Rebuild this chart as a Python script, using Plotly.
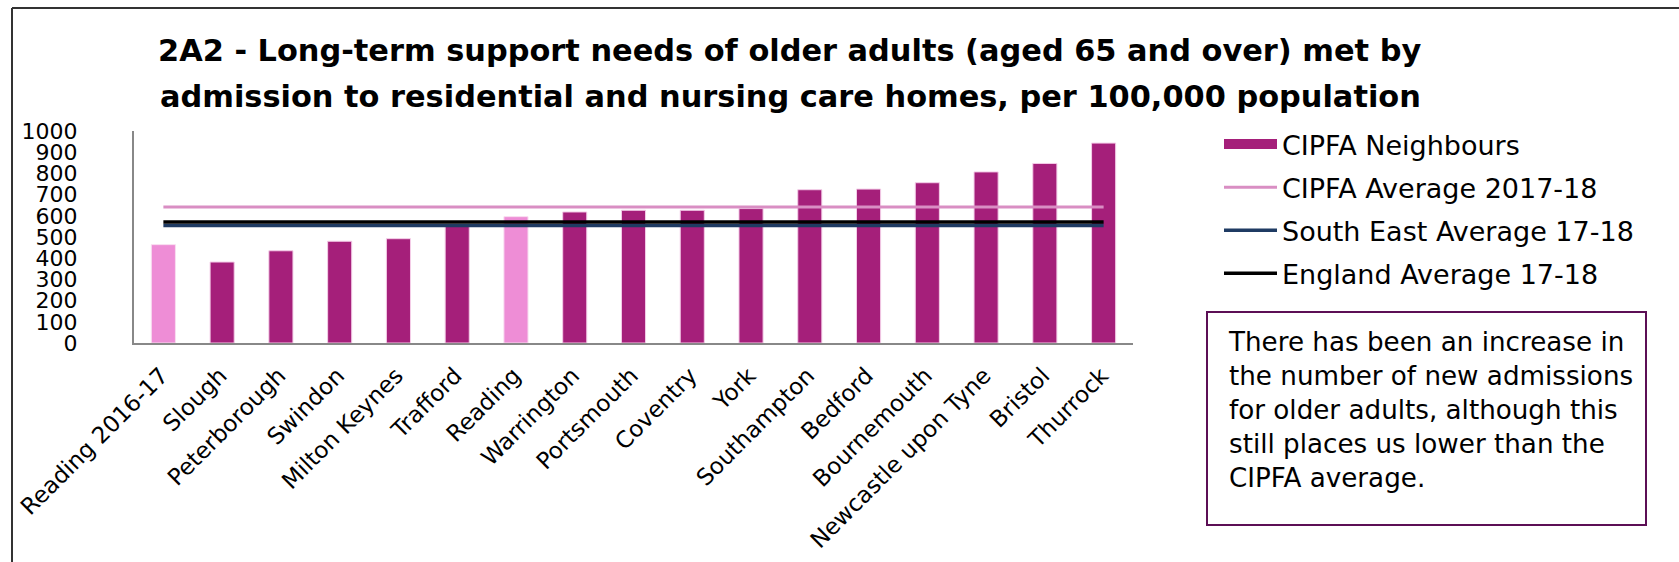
import plotly.graph_objects as go

# ---- data ----
categories = ["Reading 2016-17", "Slough", "Peterborough", "Swindon", "Milton Keynes",
              "Trafford", "Reading", "Warrington", "Portsmouth", "Coventry", "York",
              "Southampton", "Bedford", "Bournemouth", "Newcastle upon Tyne", "Bristol",
              "Thurrock"]
neighbour_values = [464, 382, 435, 480, 492, 550, 596, 618, 626, 626, 634,
                    723, 726, 756, 807, 847, 943]
highlight = ["Reading 2016-17", "Reading"]
cipfa_avg = 642
south_east_avg = 554
england_avg = 571
y_ticks = list(range(0, 1001, 100))

title_line1 = "2A2 - Long-term support needs of older adults (aged 65 and over) met by"
title_line2 = "admission to residential and nursing care homes, per 100,000 population"
note_text = ("There has been an increase in<br>the number of new admissions<br>"
             "for older adults, although this<br>still places us lower than the<br>"
             "CIPFA average.")

# ---- styles / layout constants ----
W, H = 1679, 562
ML, MR, MT, MB = 134, 546, 131, 219
PW = W - ML - MR
PH = H - MT - MB
FONT = "DejaVu Sans"
DARK = "#A51F7A"
PINK = "#EE8DD6"


def px_x(px):
    return (px - ML) / PW


def px_y(py):
    return (H - MB - py) / PH


main_vals = [None if c in highlight else v for c, v in zip(categories, neighbour_values)]
high_vals = [v if c in highlight else None for c, v in zip(categories, neighbour_values)]

fig = go.Figure()
fig.add_trace(go.Bar(
    x=categories, y=main_vals, name="CIPFA Neighbours",
    marker=dict(color=DARK, line=dict(color="#F4CDE8", width=1)),
    legendgroup="a", showlegend=False,
))
fig.add_trace(go.Bar(
    x=categories, y=high_vals, name="Reading",
    marker=dict(color=PINK, line=dict(color="#F8DDF0", width=1)),
    legendgroup="a", showlegend=False,
))
# legend entry for the bars (wide block like the original key)
fig.add_trace(go.Scatter(
    x=[None], y=[None], mode="lines", name="CIPFA Neighbours",
    line=dict(color=DARK, width=16), legendgroup="a", hoverinfo="skip",
))
fig.add_trace(go.Scatter(
    x=categories, y=[cipfa_avg] * len(categories), mode="lines",
    name="CIPFA Average 2017-18", line=dict(color="#D98EC3", width=3),
    legendgroup="b",
))
fig.add_trace(go.Scatter(
    x=categories, y=[south_east_avg] * len(categories), mode="lines",
    name="South East Average 17-18", line=dict(color="#1F3B63", width=3.5),
    legendgroup="c",
))
fig.add_trace(go.Scatter(
    x=categories, y=[england_avg] * len(categories), mode="lines",
    name="England Average 17-18", line=dict(color="#000000", width=3.5),
    legendgroup="d",
))

fig.update_layout(
    width=W, height=H,
    margin=dict(l=ML, r=MR, t=MT, b=MB, pad=0, autoexpand=False),
    paper_bgcolor="white", plot_bgcolor="white",
    font=dict(family=FONT, color="black"),
    barmode="overlay",
    bargap=0.59,
    showlegend=True,
    legend=dict(
        x=px_x(1219), xanchor="left", y=px_y(120), yanchor="top",
        font=dict(family=FONT, size=27, color="black"),
        itemwidth=53, tracegroupgap=5, bgcolor="rgba(0,0,0,0)",
    ),
    title=dict(
        text="<b>" + title_line1 + "</b>",
        x=158 / W, xanchor="left", xref="container",
        y=1 - 50 / H, yanchor="middle", yref="container",
        font=dict(family=FONT, size=30.4, color="black"),
    ),
    xaxis=dict(
        type="category", showline=True, linecolor="#888888", linewidth=2,
        showgrid=False, ticks="", tickangle=-45,
        tickfont=dict(family=FONT, size=23, color="black"),
        ticklabelstandoff=8, ticklabelshift=-2,
        fixedrange=True,
    ),
    yaxis=dict(
        range=[0, 1000], tickmode="array", tickvals=y_ticks,
        ticktext=[str(v) for v in y_ticks],
        showline=True, linecolor="#888888", linewidth=2,
        showgrid=False, zeroline=False, ticks="",
        tickfont=dict(family=FONT, size=22, color="black"),
        ticklabelstandoff=50,
        fixedrange=True,
    ),
    annotations=[
        dict(text="<b>" + title_line2 + "</b>", xref="paper", yref="paper",
             x=px_x(158), y=px_y(97), xanchor="left", yanchor="middle",
             showarrow=False, font=dict(family=FONT, size=30.4, color="black")),
        dict(text=note_text, xref="paper", yref="paper",
             x=px_x(1226), y=px_y(325), xanchor="left", yanchor="top",
             align="left", showarrow=False,
             font=dict(family=FONT, size=26.2, color="black")),
    ],
    shapes=[
        # text box frame
        dict(type="rect", xref="paper", yref="paper",
             x0=px_x(1207), x1=px_x(1646), y0=px_y(525), y1=px_y(312),
             line=dict(color="#5C0F55", width=2), fillcolor="rgba(0,0,0,0)"),
        # outer frame (left and top)
        dict(type="line", xref="paper", yref="paper",
             x0=px_x(12), x1=px_x(12), y0=px_y(8), y1=px_y(H + 5),
             line=dict(color="#333333", width=2)),
        dict(type="line", xref="paper", yref="paper",
             x0=px_x(12), x1=px_x(W + 5), y0=px_y(8), y1=px_y(8),
             line=dict(color="#333333", width=2)),
    ],
)

fig.write_html("out.html", config={"displayModeBar": False},
               post_script="document.body.style.margin='0';document.body.style.overflow='hidden';")
